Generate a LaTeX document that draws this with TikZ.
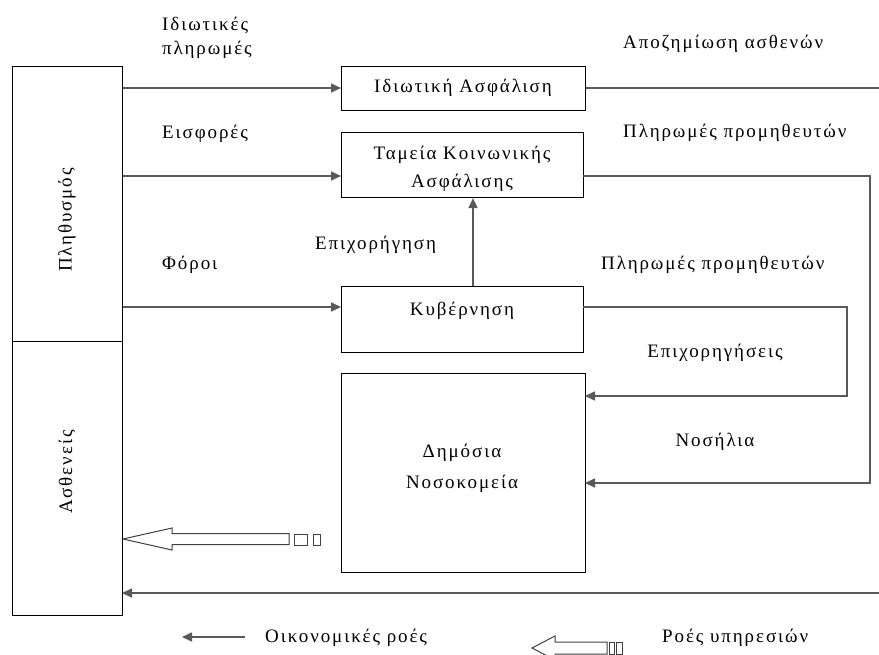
\documentclass[tikz,border=0pt]{standalone}
\usepackage{fontspec}
\setmainfont{Liberation Serif}[LetterSpace=10]
\usetikzlibrary{arrows.meta}
\begin{document}
\begin{tikzpicture}[x=1pt,y=-1pt,
  every node/.style={font=\fontsize{19}{22}\selectfont, inner sep=0pt},
  box/.style={draw=black, line width=1.1pt, rectangle},
  flow/.style={draw=black!65, line width=1.6pt},
  flowto/.style={flow, -{Triangle[length=10pt,width=9pt]}},
  hollow/.style={draw=black!75, line width=1pt, fill=white},
  lbl/.style={anchor=west},
  ctr/.style={anchor=center}]
  \useasboundingbox (0,0) rectangle (879,654);

  % population / patients column
  \node[box, minimum width=110pt, minimum height=275pt, anchor=north west] (pop) at (12,66) {};
  \node[box, minimum width=110pt, minimum height=274pt, anchor=north west] (pat) at (12,341) {};
  \node[rotate=90] (popt) at (67,220) {Πληθυσμός};
  \node[rotate=90] (patt) at (67,472) {Ασθενείς};

  % institutions
  \node[box, minimum width=244pt, minimum height=44pt, anchor=north west] (ins) at (341,66) {};
  \node[box, minimum width=242pt, minimum height=65pt, anchor=north west] (fund) at (341,132) {};
  \node[box, minimum width=242pt, minimum height=66pt, anchor=north west] (gov) at (341,286) {};
  \node[box, minimum width=244pt, minimum height=199pt, anchor=north west] (hosp) at (341,373) {};
  \node (inst) at (463,88) {Ιδιωτική Ασφάλιση};
  \node (fundt1) at (462,155) {Ταμεία Κοινωνικής};
  \node (fundt2) at (462,183) {Ασφάλισης};
  \node (govt) at (462,311) {Κυβέρνηση};
  \node (hospt1) at (462,453) {Δημόσια};
  \node (hospt2) at (462,484) {Νοσοκομεία};

  % connector end points
  \coordinate (insIn) at (341,88);
  \coordinate (fundIn) at (341,176);
  \coordinate (govIn) at (341,307);
  \coordinate (subUp) at (473,286);
  \coordinate (insOut) at (879,88);
  \coordinate (fundOut) at (583,176);
  \coordinate (fundR) at (870,176);
  \coordinate (govOut) at (583,307);
  \coordinate (govR) at (847,307);
  \coordinate (hospSub) at (585,396);
  \coordinate (hospFee) at (585,483);
  \coordinate (patIn) at (122,593);
  \coordinate (bottomR) at (879,593);

  % financial flows
  \draw[flowto] (pop.east |- insIn) -- (insIn);
  \draw[flowto] (pop.east |- fundIn) -- (fundIn);
  \draw[flowto] (pop.east |- govIn) -- (govIn);
  \draw[flowto] (subUp) -- (subUp |- fund.south);
  \draw[flow] (ins.east |- insOut) -- (insOut);
  \draw[flowto] (fundOut) -- (fundR) -- (fundR |- hospFee) -- (hospFee);
  \draw[flowto] (govOut) -- (govR) -- (govR |- hospSub) -- (hospSub);
  \draw[flowto] (bottomR) -- (patIn);

  % service flow: hospitals to patients
  \draw[hollow] (123,539) -- (172,528) -- (172,533.5) -- (289,533.5) -- (289,544.5)
    -- (172,544.5) -- (172,550) -- cycle;
  \draw[hollow] (294,534) rectangle (307,545);
  \draw[hollow] (313,534) rectangle (320,545);

  % flow labels
  \node[lbl] (l1) at (162,25) {Ιδιωτικές};
  \node[lbl] (l2) at (162,50) {πληρωμές};
  \node[lbl] (l3) at (162,134) {Εισφορές};
  \node[lbl] (l4) at (162,265) {Φόροι};
  \node[lbl] (l5) at (315,245) {Επιχορήγηση};
  \node[lbl] (r1) at (623,44) {Αποζημίωση ασθενών};
  \node[lbl] (r2) at (623,133) {Πληρωμές προμηθευτών};
  \node[lbl] (r3) at (601,265) {Πληρωμές προμηθευτών};
  \node (r4) at (715,353) {Επιχορηγήσεις};
  \node (r5) at (715,442) {Νοσήλια};

  % legend
  \coordinate (legA) at (245,637);
  \coordinate (legB) at (182,637);
  \draw[flowto] (legA) -- (legB);
  \node[lbl] (leg1) at (265,638) {Οικονομικές ροές};
  \draw[hollow] (532,648) -- (555,636) -- (555,642) -- (607,642) -- (607,654)
    -- (555,654) -- (555,660) -- cycle;
  \draw[hollow] (609,642) rectangle (614,654);
  \draw[hollow] (616,642) rectangle (622,654);
  \node[lbl] (leg2) at (662,638) {Ροές υπηρεσιών};
\end{tikzpicture}
\end{document}
